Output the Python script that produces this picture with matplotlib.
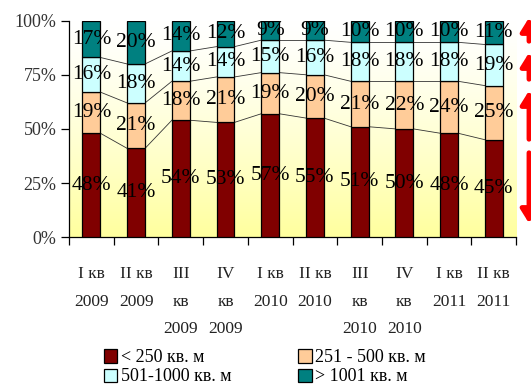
import numpy as np
import matplotlib
matplotlib.use("Agg")
import matplotlib.pyplot as plt
from matplotlib.patches import FancyArrowPatch, Patch

plt.rcParams['font.family'] = ['Liberation Serif', 'DejaVu Serif']

categories = ["I кв\n2009", "II кв\n2009", "III\nкв\n2009", "IV\nкв\n2009",
              "I кв\n2010", "II кв\n2010", "III\nкв\n2010", "IV\nкв\n2010",
              "I кв\n2011", "II кв\n2011"]
small = [48, 41, 54, 53, 57, 55, 51, 50, 48, 45]      # < 250 кв. м
medium = [19, 21, 18, 21, 19, 20, 21, 22, 24, 25]     # 251 - 500 кв. м
large = [16, 18, 14, 14, 15, 16, 18, 18, 18, 19]      # 501-1000 кв. м
xlarge = [17, 20, 14, 12, 9, 9, 10, 10, 10, 11]       # > 1001 кв. м
series = [small, medium, large, xlarge]
labels = ["< 250 кв. м", "251 - 500 кв. м", "501-1000 кв. м", "> 1001 кв. м"]
colors = ["#800000", "#FFCC99", "#CCFFFF", "#008080"]
yticks = [0, 25, 50, 75, 100]

fig = plt.figure(figsize=(5.31, 3.90), dpi=100)
ax = fig.add_axes([0.130, 0.392, 0.842, 0.555])

n = len(categories)
x = np.arange(n)
width = 0.4

# vertical gradient background: white at top, pale yellow at bottom
grad = np.linspace(0, 1, 256).reshape(-1, 1) ** 1.3
top = np.array([1.0, 1.0, 1.0])
bot = np.array([1.0, 1.0, 0.62])
img = top[None, None, :] * (1 - grad[:, :, None]) + bot[None, None, :] * grad[:, :, None]
ax.imshow(img, extent=[-0.5, n - 0.5, 0, 100], origin='upper', aspect='auto', zorder=0)

bottom = np.zeros(n)
for vals, col in zip(series, colors):
    v = np.array(vals, dtype=float)
    ax.bar(x, v, width, bottom=bottom, color=col, edgecolor='black',
           linewidth=0.9, zorder=3)
    for xi, b, h in zip(x, bottom, v):
        ax.text(xi, b + h / 2, f"{int(h)}%", ha='center', va='center',
                fontsize=15.5, color='black', zorder=5)
    bottom = bottom + v
    # series lines joining the segment tops of neighbouring bars
    if not np.allclose(bottom, 100):
        for i in range(n - 1):
            ax.plot([x[i] + width / 2, x[i + 1] - width / 2],
                    [bottom[i], bottom[i + 1]], color='#333333',
                    linewidth=0.6, zorder=2)

ax.set_xlim(-0.5, n - 0.5)
ax.set_ylim(0, 100)
ax.set_yticks(yticks)
ax.set_yticklabels([f"{t}%" for t in yticks], fontsize=13, color='#333333')
ax.set_xticks(x)
ax.set_xticklabels(categories, fontsize=12.5, color='#222222', linespacing=1.95)
ax.set_xticks(np.arange(n + 1) - 0.5, minor=True)
ax.tick_params(axis='x', which='major', length=0, pad=21)
ax.tick_params(axis='x', which='minor', length=6, width=0.9, direction='out')
ax.tick_params(axis='y', length=6, width=0.9, direction='out', pad=3)
for s in ['top', 'right']:
    ax.spines[s].set_visible(False)
for s in ['left', 'bottom']:
    ax.spines[s].set_linewidth(0.9)

handles = [Patch(facecolor=c, edgecolor='black', linewidth=0.9) for c in colors]
order = [0, 2, 1, 3]
fig.legend([handles[i] for i in order], [labels[i] for i in order],
           ncol=2, loc='lower left', bbox_to_anchor=(0.165, -0.03),
           frameon=False, fontsize=13, handlelength=0.75, handleheight=0.75,
           handletextpad=0.2, columnspacing=3.7, labelspacing=0.12)

# red span arrows on the right edge
for y0, y1 in [(44, 15), (82, 50), (142, 88)]:
    fig.add_artist(FancyArrowPatch((529, 390 - y0), (529, 390 - y1),
                                   transform=None, arrowstyle='-|>,head_width=5,head_length=8',
                                   color='#FF0000', linewidth=3.5, mutation_scale=1))
fig.add_artist(FancyArrowPatch((529, 390 - 150), (529, 390 - 226),
                               transform=None, arrowstyle='-|>,head_width=5,head_length=8',
                               color='#FF0000', linewidth=3.5, mutation_scale=1))

fig.savefig("out.png", dpi=100)
